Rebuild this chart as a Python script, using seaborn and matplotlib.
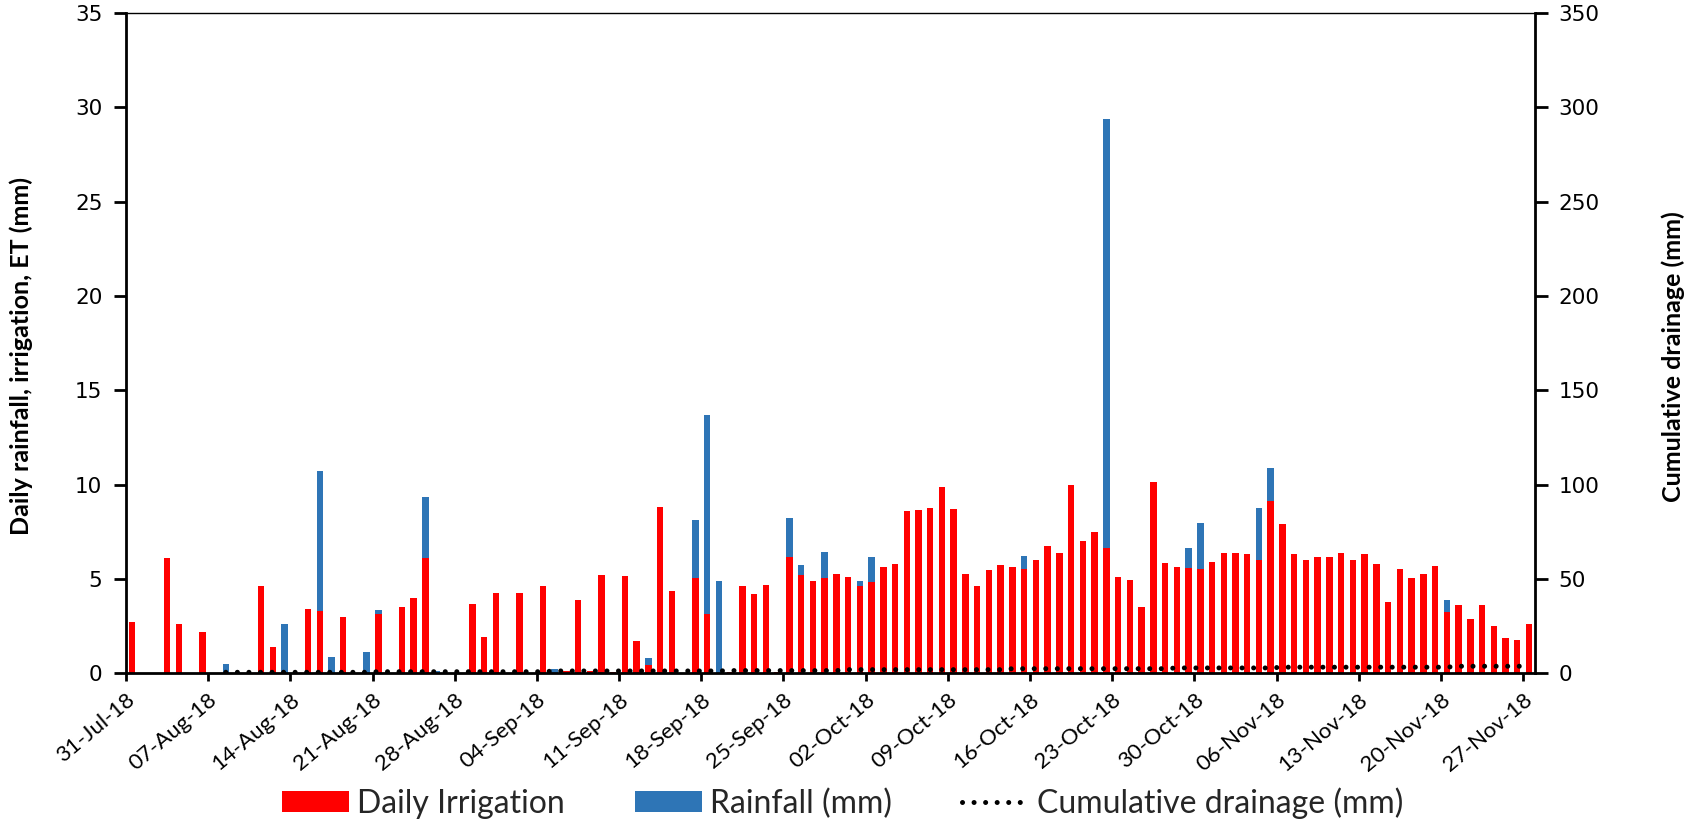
import numpy as np
import pandas as pd
import matplotlib
matplotlib.use("Agg")
import matplotlib.pyplot as plt
from matplotlib.patches import Patch
from matplotlib.lines import Line2D
import seaborn as sns

# ---- data -------------------------------------------------------------
start_date = "2018-07-31"
n_days = 120

irrigation = [
    2.7, 0, 0, 6.1, 2.6, 0, 2.2, 0, 0, 0,
    0, 4.6, 1.4, 0, 0, 3.4, 3.3, 0, 3.0, 0,
    0, 3.15, 0, 3.5, 4.0, 6.1, 0, 0, 0, 3.65,
    1.9, 4.25, 0, 4.25, 0, 4.65, 0, 0.1, 3.9, 0.1,
    5.2, 0.05, 5.15, 1.7, 0.45, 8.8, 4.35, 0, 5.05, 3.15,
    0, 0.05, 4.6, 4.2, 4.7, 0.05, 6.15, 5.2, 4.9, 5.05,
    5.25, 5.1, 4.65, 4.85, 5.65, 5.8, 8.6, 8.65, 8.75, 9.85,
    8.7, 5.25, 4.65, 5.45, 5.75, 5.65, 5.5, 6.0, 6.75, 6.4,
    10.0, 7.0, 7.5, 6.65, 5.1, 4.95, 3.5, 10.15, 5.85, 5.65,
    5.6, 5.5, 5.9, 6.35, 6.4, 6.3, 6.0, 9.15, 7.9, 6.3,
    6.0, 6.15, 6.15, 6.4, 6.0, 6.3, 5.8, 3.75, 5.55, 5.05,
    5.25, 5.7, 3.25, 3.6, 2.85, 3.6, 2.5, 1.85, 1.75, 2.6,
]

rainfall = [
    0, 0, 0, 0, 0, 0, 0, 0, 0.5, 0,
    0, 0, 0, 2.6, 0, 0, 7.4, 0.85, 0, 0,
    1.15, 0.2, 0, 0, 0, 3.25, 0.1, 0, 0, 0,
    0, 0, 0, 0, 0, 0, 0.25, 0, 0, 0,
    0, 0, 0, 0, 0.35, 0, 0, 0, 3.05, 10.55,
    4.9, 0, 0, 0, 0, 0, 2.1, 0.55, 0, 1.4,
    0, 0, 0.25, 1.3, 0, 0, 0, 0, 0, 0,
    0, 0, 0, 0, 0, 0, 0.7, 0, 0, 0,
    0, 0, 0, 22.75, 0, 0, 0, 0, 0, 0,
    1.05, 2.45, 0, 0, 0, 0, 2.75, 1.75, 0, 0,
    0, 0, 0, 0, 0, 0, 0, 0, 0, 0,
    0, 0, 0.65, 0, 0, 0, 0, 0, 0, 0,
]

# cumulative drainage (right axis), recorded from 08-Aug onward
drainage = [np.nan] * 8 + [
    0.5, 0.5, 0.5, 0.5, 0.5, 0.5, 0.5, 0.5, 0.5, 0.5, 0.5, 0.5, 0.5,
    0.8, 0.8, 0.8, 0.8, 0.8, 0.8, 0.8, 0.8, 0.8, 0.8, 0.8, 0.8, 0.8, 0.8, 0.8,
    1.2, 1.2, 1.2, 1.2, 1.2, 1.2, 1.2, 1.2, 1.2, 1.2, 1.2, 1.2, 1.2, 1.2, 1.2,
    1.4, 1.4, 1.4, 1.4, 1.4, 1.4, 1.4, 1.4, 1.4, 1.4,
    1.9, 1.9, 1.9, 1.9, 1.9, 1.9, 1.9, 1.9, 1.9, 1.9, 1.9, 1.9, 1.9, 1.9,
    2.4, 2.4, 2.4, 2.4, 2.4, 2.4, 2.4, 2.4, 2.4, 2.4, 2.4, 2.4, 2.4, 2.4,
    2.8, 2.8, 2.8, 2.8, 2.8, 2.8, 2.8, 2.8, 2.8,
    3.2, 3.2, 3.2, 3.2, 3.2, 3.2, 3.2, 3.2, 3.2, 3.2, 3.2, 3.2, 3.2, 3.2, 3.2,
    3.7, 3.7, 3.7, 3.7, 3.7, 3.7, 3.7,
]

series_names = ["Daily Irrigation", "Rainfall (mm)", "Cumulative drainage (mm)"]
left_ticks = [0, 5, 10, 15, 20, 25, 30, 35]
right_ticks = [0, 50, 100, 150, 200, 250, 300, 350]

# ---- frame ------------------------------------------------------------
dates = pd.date_range(start_date, periods=n_days, freq="D")
day = np.arange(n_days)

bars = pd.concat([
    pd.DataFrame({"day": day, "mm": irrigation, "kind": series_names[0]}),
    pd.DataFrame({"day": day, "mm": rainfall, "kind": series_names[1]}),
])
drain = pd.DataFrame({"day": day, "drain": drainage})

# ---- style ------------------------------------------------------------
sns.set_theme(style="white")
plt.rcParams["font.family"] = ["DejaVu Sans"]
calibri_like = ["Lato", "DejaVu Sans"]
narrow_bold = ["Liberation Sans Narrow", "Lato", "DejaVu Sans"]

RED = "#FF0000"
BLUE = "#2E75B6"
DOTS = (0, (0.01, 2.3))
DOT_LW = 3.6

fig = plt.figure(figsize=(16.96, 8.22), dpi=100)
ax = fig.add_axes([0.0743, 0.181, 0.905 - 0.0743, 0.984 - 0.181])

# stacked daily bars: last hue level sits at the bottom of the stack
sns.histplot(
    data=bars, x="day", weights="mm", hue="kind",
    hue_order=[series_names[1], series_names[0]],
    palette={series_names[0]: RED, series_names[1]: BLUE},
    multiple="stack", discrete=True, shrink=0.55,
    element="bars", fill=True, alpha=1, linewidth=0,
    legend=False, ax=ax,
)

ax.set_xlim(-0.5, n_days - 0.5)
ax.set_ylim(0, 35)
ax.set_yticks(left_ticks)
tick_days = day[::7]
ax.set_xticks(tick_days - 0.5)
ax.set_xticklabels([d.strftime("%d-%b-%y") for d in dates[::7]],
                   rotation=40, ha="right", rotation_mode="anchor",
                   fontsize=16, family=calibri_like)
ax.tick_params(axis="y", labelsize=15.5, length=9, width=2, direction="out",
               left=True, pad=8, colors="black")
ax.tick_params(axis="x", length=6, width=2, direction="out", bottom=True,
               pad=6, colors="black")
ax.set_xlabel("")
ax.set_ylabel("Daily rainfall, irrigation, ET (mm)", fontsize=18,
              fontweight="bold", family=narrow_bold, color="black")
ax.yaxis.set_label_coords(-0.066, 0.48)

for side in ("left", "bottom"):
    ax.spines[side].set_linewidth(2)
    ax.spines[side].set_color("black")
ax.spines["top"].set_linewidth(1)
ax.spines["top"].set_color("black")
ax.spines["right"].set_visible(False)

# cumulative drainage on a secondary axis
ax2 = ax.twinx()
sns.lineplot(data=drain, x="day", y="drain", ax=ax2, color="black",
             linewidth=DOT_LW, linestyle=DOTS,
             dash_capstyle="round", solid_capstyle="round")
ax2.set_ylim(0, 350)
ax2.set_yticks(right_ticks)
ax2.tick_params(axis="y", labelsize=15.5, length=9, width=2, direction="out",
                right=True, pad=8, colors="black")
ax2.set_ylabel("Cumulative drainage (mm)", fontsize=18, fontweight="bold",
               family=narrow_bold, color="black")
ax2.yaxis.set_label_coords(1.09, 0.48)
ax2.spines["right"].set_linewidth(2)
ax2.spines["right"].set_color("black")
for side in ("left", "top", "bottom"):
    ax2.spines[side].set_visible(False)
ax2.set_xlim(-0.5, n_days - 0.5)

handles = [
    Patch(facecolor=RED, edgecolor="none"),
    Patch(facecolor=BLUE, edgecolor="none"),
    Line2D([0], [0], color="black", linewidth=DOT_LW, linestyle=DOTS,
           dash_capstyle="round"),
]
fig.legend(handles, series_names, loc="center", bbox_to_anchor=(0.497, 0.023),
           ncol=3, frameon=False, handlelength=2.1, handleheight=0.6,
           handletextpad=0.25, columnspacing=2.2,
           prop={"family": calibri_like, "size": 23})

fig.savefig("out.png", dpi=100)
